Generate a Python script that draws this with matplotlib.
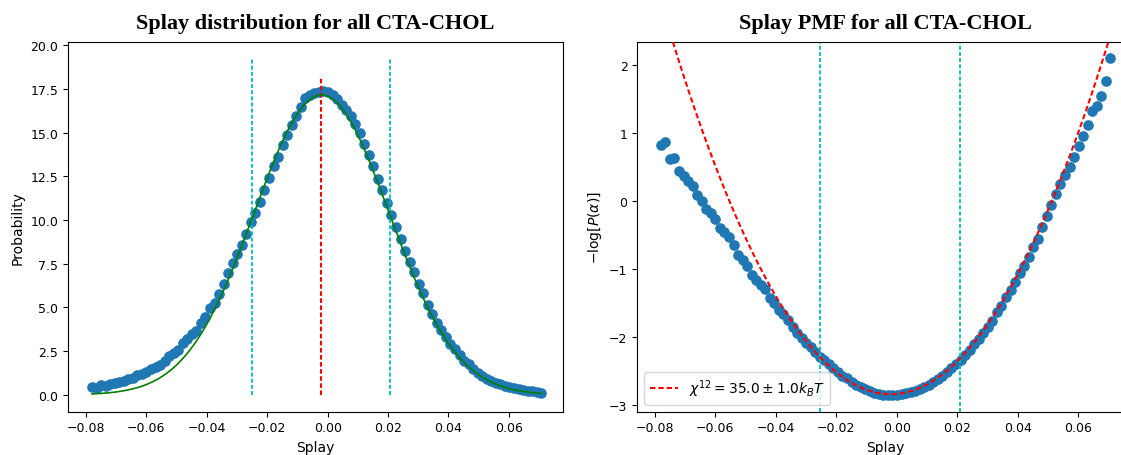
import numpy as np
import matplotlib
matplotlib.use("Agg")
import matplotlib.pyplot as plt

# histogram bin centres of the splay values (100 bins)
splay = np.linspace(-0.0780, 0.0707, 100)

# probability density per bin
probability = [
    0.436, 0.419, 0.538, 0.527, 0.644, 0.691, 0.741, 0.795, 0.914, 0.990,
    1.127, 1.185, 1.297, 1.492, 1.584, 1.699, 1.916, 2.203, 2.387, 2.586,
    2.945, 3.190, 3.456, 3.633, 4.137, 4.482, 4.953, 5.259, 5.75, 6.36,
    6.96, 7.54, 8.08, 8.58, 9.21, 9.87, 10.38, 11.02, 11.70, 12.43,
    13.07, 13.60, 14.30, 14.88, 15.41, 15.96, 16.44, 16.95, 17.15, 17.29,
    17.34, 17.37, 17.30, 17.15, 16.90, 16.60, 16.30, 15.95, 15.50, 14.95,
    14.35, 13.70, 13.10, 12.35, 11.70, 11.00, 10.30, 9.60, 8.90, 8.20,
    7.60, 7.00, 6.35, 5.80, 5.15, 4.65, 4.10, 3.70, 3.30, 2.90,
    2.60, 2.28, 1.95, 1.74, 1.46, 1.24, 1.06, 0.90, 0.78, 0.68,
    0.60, 0.52, 0.445, 0.38, 0.325, 0.263, 0.245, 0.212, 0.170, 0.122,
]

# gaussian / harmonic fit parameters
fit_mu = -0.0020
fit_sigma = 0.02236
fit_amp = 17.15

# mean and mean +/- std markers
splay_mean = -0.0023
splay_lo = -0.0252
splay_hi = 0.0208

legend_label = r'$\chi^{12} = 35.0 \pm 1.0k_BT$'

prob = np.array(probability)
pmf = -np.log(prob)

xfit = np.linspace(splay.min(), splay.max(), 400)
gauss = fit_amp * np.exp(-(xfit - fit_mu) ** 2 / (2 * fit_sigma ** 2))
harm = (xfit - fit_mu) ** 2 / (2 * fit_sigma ** 2) - np.log(fit_amp)

plt.rcParams['font.family'] = ['DejaVu Sans']
title_font = dict(family='Liberation Serif', weight='bold', size=16)

fig = plt.figure(figsize=(11.21, 4.56), dpi=100)
ax1 = fig.add_axes([0.0605, 0.095, 0.4420, 0.810])
ax2 = fig.add_axes([0.5685, 0.095, 0.4420, 0.810])

# left: distribution
ax1.scatter(splay, prob, s=44, color='C0', zorder=2)
ax1.plot(xfit, gauss, color='green', lw=1.2, zorder=3)
ax1.vlines([splay_lo, splay_hi], 0, 19.2, colors='c', lw=1.3,
           linestyles=[(0, (2.2, 1.2))])
ax1.vlines(splay_mean, 0, 18.2, colors='r', lw=1.5,
           linestyles=[(0, (2.2, 1.2))])
ax1.set_xlim(-0.0860, 0.0780)
ax1.set_ylim(-0.96, 20.16)
ax1.set_xlabel('Splay', fontsize=10)
ax1.set_ylabel('Probability', fontsize=10)
ax1.set_title('Splay distribution for all CTA-CHOL', pad=10, **title_font)
ax1.tick_params(labelsize=9)

# right: PMF
ax2.scatter(splay, pmf, s=44, color='C0', zorder=2)
ax2.plot(xfit, harm, color='r', lw=1.5, linestyle=(0, (2.6, 1.4)),
         label=legend_label, zorder=3)
for xv in (splay_lo, splay_hi):
    ax2.axvline(xv, color='c', lw=1.3, linestyle=(0, (2.2, 1.2)))
ax2.set_xlim(-0.0858, 0.0781)
ax2.set_ylim(-3.10, 2.34)
ax2.set_xlabel('Splay', fontsize=10)
ax2.set_ylabel(r'$-\log[P(\alpha)]$', fontsize=10)
ax2.set_title('Splay PMF for all CTA-CHOL', pad=10, **title_font)
ax2.tick_params(labelsize=9)
ax2.legend(loc='lower left', fontsize=10)

fig.savefig('out.png', dpi=100)
